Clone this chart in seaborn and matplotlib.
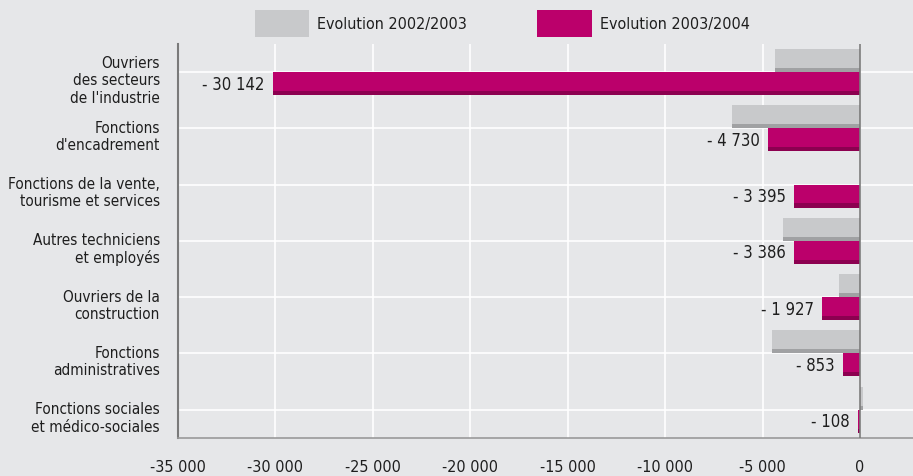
import pandas as pd
import seaborn as sns
import matplotlib.pyplot as plt
import matplotlib.transforms as mtransforms
from matplotlib.patches import Rectangle
from matplotlib.ticker import FuncFormatter

# Catégories (de haut en bas)
categories = [
    "Ouvriers\ndes secteurs\nde l'industrie",
    "Fonctions\nd'encadrement",
    "Fonctions de la vente,\ntourisme et services",
    "Autres techniciens\net employés",
    "Ouvriers de la\nconstruction",
    "Fonctions\nadministratives",
    "Fonctions sociales\net médico-sociales",
]
evol_2002_2003 = [-4350, -6550, 0, -3950, -1100, -4500, 150]
evol_2003_2004 = [-30142, -4730, -3395, -3386, -1927, -853, -108]
series_names = ["Evolution 2002/2003", "Evolution 2003/2004"]
x_ticks = [-35000, -30000, -25000, -20000, -15000, -10000, -5000, 0]

GRAY = "#c8c9cb"
GRAY_DARK = "#a0a1a3"
MAGENTA = "#bb006b"
MAGENTA_DARK = "#8c0050"
BG = "#e6e7e9"
TXT = "#1e1e1e"

df = pd.DataFrame({
    "categorie": categories * 2,
    "serie": [series_names[0]] * len(categories) + [series_names[1]] * len(categories),
    "valeur": evol_2002_2003 + evol_2003_2004,
})

sns.set_theme(style="white")
plt.rcParams["font.family"] = ["DejaVu Sans"]
plt.rcParams["font.stretch"] = "condensed"

fig = plt.figure(figsize=(9.13, 4.77), dpi=100, facecolor=BG)
ax = fig.add_axes([0.195, 0.080, 0.805, 0.826])
ax.set_facecolor(BG)

sns.barplot(data=df, y="categorie", x="valeur", hue="serie", orient="h",
            palette=[GRAY, MAGENTA], saturation=1, width=0.82, ax=ax,
            legend=True, linewidth=0)

# Effet de relief : bande sombre en bas de chaque barre
for cont, dark in zip(ax.containers, [GRAY_DARK, MAGENTA_DARK]):
    for p in cont:
        x, y, w, h = p.get_x(), p.get_y(), p.get_width(), p.get_height()
        if w == 0:
            continue
        ax.add_patch(Rectangle((x, y + 0.82 * h), w, 0.18 * h,
                               facecolor=dark, edgecolor="none", zorder=p.get_zorder() + 0.1))

# Étiquettes de valeurs sur la série 2003/2004
labels = ["- " + f"{abs(v):,}".replace(",", " ") for v in evol_2003_2004]
ax.bar_label(ax.containers[1], labels=labels, padding=6, fontsize=12,
             color=TXT)

ax.set_xlim(-35000, 2720)
ax.set_xticks(x_ticks)
ax.xaxis.set_major_formatter(FuncFormatter(lambda v, _: "0" if v == 0 else f"{int(v):,}".replace(",", " ")))
ax.grid(True, axis="both", color="white", linewidth=1.2)
ax.set_axisbelow(True)
ax.axvline(0, color="#7a7a7a", linewidth=1.2, zorder=5)

ax.set_xlabel("")
ax.set_ylabel("")
ax.tick_params(axis="x", length=0, pad=15, labelsize=11.5, labelcolor=TXT)
ax.tick_params(axis="y", length=0, pad=13, labelsize=11, labelcolor=TXT)
shift = mtransforms.ScaledTranslation(0, -5 / 100, fig.dpi_scale_trans)
for t in ax.get_yticklabels():
    t.set_horizontalalignment("right")
    t.set_multialignment("right")
    t.set_transform(t.get_transform() + shift)

for s in ["top", "right"]:
    ax.spines[s].set_visible(False)
ax.spines["left"].set_color("#7a7a7a")
ax.spines["left"].set_linewidth(1.5)
ax.spines["bottom"].set_color("#9a9a9a")
ax.spines["bottom"].set_linewidth(1.2)

handles, leg_labels = ax.get_legend_handles_labels()
ax.get_legend().remove()
fig.legend(handles, leg_labels, loc="upper center", bbox_to_anchor=(0.55, 1.008),
           ncol=2, frameon=False, handlelength=3.4, handleheight=2.3,
           columnspacing=4.4, handletextpad=0.5, labelcolor=TXT,
           prop={"size": 11.5, "stretch": "condensed"})

fig.savefig("out.png", dpi=100, facecolor=BG)
